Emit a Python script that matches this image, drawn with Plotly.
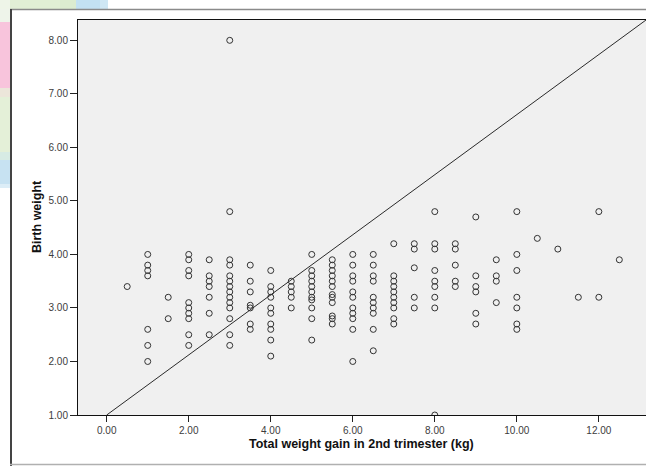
import plotly.graph_objects as go

# ---- data ----
weight_gain = (
    [0.5]
    + [1.0] * 7
    + [1.5] * 2
    + [2.0] * 10
    + [2.5] * 7
    + [3.0] * 14
    + [3.5] * 7
    + [4.0] * 10
    + [4.5] * 5
    + [5.0] * 11
    + [5.5] * 12
    + [6.0] * 11
    + [6.5] * 10
    + [7.0] * 10
    + [7.5] * 5
    + [8.0] * 9
    + [8.5] * 5
    + [9.0] * 6
    + [9.5] * 4
    + [10.0] * 7
    + [10.5, 11.0, 11.5, 12.0, 12.0, 12.5]
)
birth_weight = [
    3.4,
    4.0, 3.8, 3.7, 3.6, 2.6, 2.3, 2.0,
    3.2, 2.8,
    4.0, 3.9, 3.7, 3.6, 3.1, 3.0, 2.9, 2.8, 2.5, 2.3,
    3.9, 3.6, 3.5, 3.4, 3.2, 2.9, 2.5,
    8.0, 4.8, 3.9, 3.8, 3.6, 3.5, 3.4, 3.3, 3.2, 3.1, 3.0, 2.8, 2.5, 2.3,
    3.8, 3.5, 3.3, 3.05, 3.0, 2.7, 2.6,
    3.7, 3.4, 3.3, 3.2, 3.0, 2.9, 2.7, 2.6, 2.4, 2.1,
    3.5, 3.4, 3.3, 3.2, 3.0,
    4.0, 3.7, 3.6, 3.5, 3.4, 3.3, 3.2, 3.15, 3.0, 2.8, 2.4,
    3.9, 3.8, 3.7, 3.6, 3.5, 3.4, 3.25, 3.2, 3.1, 2.85, 2.8, 2.7,
    4.0, 3.8, 3.6, 3.5, 3.3, 3.2, 3.0, 2.9, 2.8, 2.6, 2.0,
    4.0, 3.8, 3.6, 3.5, 3.2, 3.1, 3.0, 2.9, 2.6, 2.2,
    4.2, 3.6, 3.5, 3.4, 3.3, 3.2, 3.1, 3.0, 2.8, 2.7,
    4.2, 4.1, 3.75, 3.2, 3.0,
    4.8, 4.2, 4.1, 3.7, 3.5, 3.4, 3.2, 3.0, 1.0,
    4.2, 4.1, 3.8, 3.5, 3.4,
    4.7, 3.6, 3.4, 3.3, 2.9, 2.7,
    3.9, 3.6, 3.5, 3.1,
    4.8, 4.0, 3.7, 3.2, 3.0, 2.7, 2.6,
    4.3, 4.1, 3.2, 4.8, 3.2, 3.9,
]
ref_line_x = [0.0, 13.15]
ref_line_y = [1.0, 8.38]

x_ticks = [0, 2, 4, 6, 8, 10, 12]
y_ticks = [1, 2, 3, 4, 5, 6, 7, 8]
x_title = "Total weight gain in 2nd trimester (kg)"
y_title = "Birth weight"

# ---- layout geometry (pixels) ----
W, H = 646, 466
L, R, T, B = 78, 0, 20, 51
PW, PH = W - L - R, H - T - B


def px2x(px):
    return (px - L) / PW


def py2y(py):
    return (H - B - py) / PH


FONT = "Liberation Sans, Arial, sans-serif"

fig = go.Figure()
fig.add_trace(go.Scatter(
    x=ref_line_x, y=ref_line_y, mode="lines",
    line=dict(color="#2a2a2a", width=1), hoverinfo="skip", showlegend=False,
))
fig.add_trace(go.Scatter(
    x=weight_gain, y=birth_weight, mode="markers",
    marker=dict(symbol="circle-open", size=6, color="#333333",
                line=dict(width=1, color="#333333")),
    showlegend=False,
))

shapes = []


def rect(x0, y0, x1, y1, color):
    shapes.append(dict(type="rect", xref="paper", yref="paper",
                       x0=px2x(x0), x1=px2x(x1), y0=py2y(y0), y1=py2y(y1),
                       fillcolor=color, line=dict(width=0), layer="above"))


def hline(x0, x1, y, color, width):
    shapes.append(dict(type="line", xref="paper", yref="paper",
                       x0=px2x(x0), x1=px2x(x1), y0=py2y(y), y1=py2y(y),
                       line=dict(color=color, width=width), layer="above"))


def vline(x, y0, y1, color, width):
    shapes.append(dict(type="line", xref="paper", yref="paper",
                       x0=px2x(x), x1=px2x(x), y0=py2y(y0), y1=py2y(y1),
                       line=dict(color=color, width=width), layer="above"))


# desktop background tiles around the output window
rect(0, 0, 10, 9, "#eef5e8")
rect(10, 0, 60, 9, "#e1efd5")
rect(60, 0, 76, 9, "#dcecd0")
rect(76, 0, 100, 9, "#c3e1f2")
rect(100, 0, 108, 9, "#cfe7f4")
rect(0, 9, 10, 22, "#eef4ea")
rect(0, 22, 10, 88, "#f8c4dc")
rect(0, 88, 10, 97, "#ece6da")
rect(0, 97, 10, 152, "#e4f0d8")
rect(0, 152, 10, 160, "#d7ebe4")
rect(0, 160, 10, 184, "#c7e2f2")
rect(0, 184, 10, 188, "#dcedf7")
# window frame
hline(10, W, 9.5, "#8a8a8a", 1.5)
vline(11, 9, H, "#444444", 2)
hline(10, W, 464.5, "#b0b0b0", 1.5)

fig.update_layout(
    width=W, height=H,
    margin=dict(l=L, r=R, t=T, b=B, pad=0),
    paper_bgcolor="white",
    plot_bgcolor="#f0f0f0",
    font=dict(family=FONT, size=10, color="#3c3c3c"),
    shapes=shapes,
    annotations=[
        dict(text="<b>%s</b>" % x_title, xref="paper", yref="paper",
             x=px2x(361), y=py2y(444), xanchor="center", yanchor="middle",
             showarrow=False, font=dict(family=FONT, size=12.5, color="#111111")),
        dict(text="<b>%s</b>" % y_title, xref="paper", yref="paper",
             x=px2x(37), y=py2y(217), xanchor="center", yanchor="middle",
             textangle=-90, showarrow=False,
             font=dict(family=FONT, size=12.5, color="#111111")),
    ],
)
fig.update_xaxes(
    range=[-0.70, 13.15], tickvals=x_ticks, tickformat=".2f",
    showgrid=False, zeroline=False, showline=True, linecolor="#111111",
    linewidth=1, mirror=True, ticks="outside", ticklen=6, tickcolor="#222222",
    tickfont=dict(size=10, color="#3c3c3c"),
)
fig.update_yaxes(
    range=[1.0, 8.38], tickvals=y_ticks, tickformat=".2f",
    showgrid=False, zeroline=False, showline=True, linecolor="#111111",
    linewidth=1, ticks="outside", ticklen=7, tickcolor="#222222",
    tickfont=dict(size=10, color="#3c3c3c"),
)

fig.write_html(
    "out.html",
    config={"displayModeBar": False},
    post_script="document.body.style.margin='0';document.body.style.overflow='hidden';",
)
